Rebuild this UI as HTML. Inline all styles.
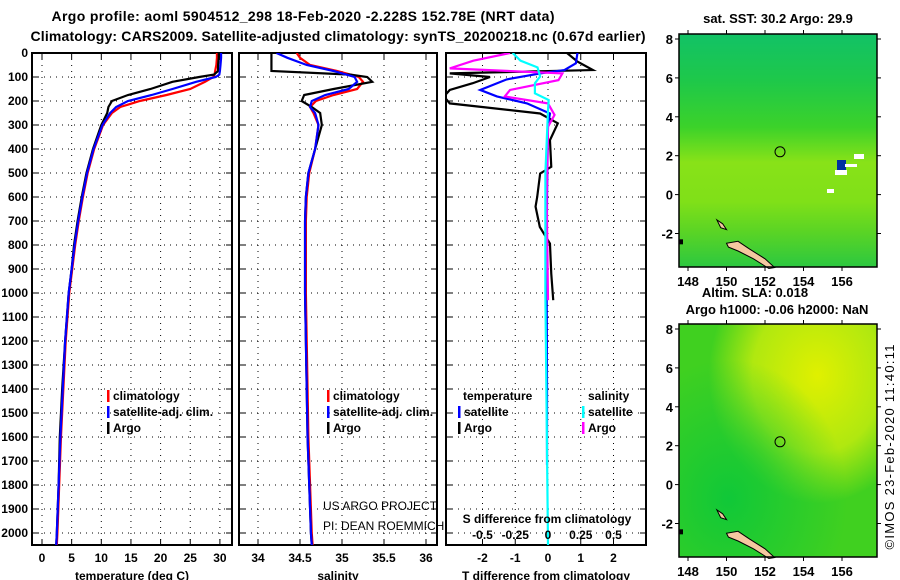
<!DOCTYPE html>
<html><head><meta charset="utf-8"><style>
html,body{margin:0;padding:0;background:#fff}
svg{display:block;font-family:"Liberation Sans",Arial,sans-serif}
text{font-weight:bold;font-size:12px;fill:#000}
</style></head><body>
<svg id="c" width="900" height="580" viewBox="0 0 900 580" xmlns="http://www.w3.org/2000/svg">
<defs>
<linearGradient id="sstg" x1="0" y1="0" x2="0" y2="1">
<stop offset="0" stop-color="#12c266"/><stop offset="0.2" stop-color="#1ec84a"/><stop offset="0.4" stop-color="#3cd22a"/><stop offset="0.55" stop-color="#88e218"/><stop offset="0.72" stop-color="#80e018"/><stop offset="0.85" stop-color="#5ad425"/><stop offset="1" stop-color="#2cc840"/>
</linearGradient>
<radialGradient id="slay" cx="0.7" cy="0.22" r="0.55"><stop offset="0" stop-color="#e0f000"/><stop offset="0.6" stop-color="#b0e810"/><stop offset="1" stop-color="#b0e810" stop-opacity="0"/></radialGradient>
<radialGradient id="slag" cx="0.25" cy="0.75" r="0.6"><stop offset="0" stop-color="#10c838"/><stop offset="1" stop-color="#10c838" stop-opacity="0"/></radialGradient>
</defs>
<text x="303" y="21" text-anchor="middle" style="font-size:14px" textLength="503">Argo profile: aoml 5904512_298 18-Feb-2020 -2.228S 152.78E (NRT data)</text>
<text x="338" y="41" text-anchor="middle" style="font-size:14px" textLength="615">Climatology: CARS2009. Satellite-adjusted climatology: synTS_20200218.nc (0.67d earlier)</text>
<g id="plots"></g>
<g id="maps"></g>
<text transform="translate(894,447) rotate(-90)" text-anchor="middle" style="font-size:13px;font-weight:normal" textLength="205">©IMOS 23-Feb-2020 11:40:11</text>
</svg>
<script>
// ---- data ----
const depths = [0,20,50,75,90,100,120,150,175,200,225,250,300,400,500,600,700,800,900,1000,1200,1400,1600,1800,2000,2050];
const tempArgo = [29.8,29.8,29.7,29.7,29.0,26.5,22.0,18.3,14.5,11.8,11.2,11.0,10.0,8.6,7.5,6.7,6.0,5.4,5.0,4.5,3.9,3.4,3.0,2.8,2.5,2.4];
const tempClim = [29.5,29.5,29.4,29.2,29.1,28.9,27.5,25.0,21.0,16.5,13.2,11.8,10.3,8.8,7.7,6.9,6.2,5.6,5.1,4.6,4.0,3.6,3.2,2.9,2.6,2.5];
const tempSat  = [30.2,30.2,30.1,30.0,29.9,29.3,26.0,22.0,18.5,14.5,12.5,11.5,10.2,8.7,7.6,6.8,6.1,5.5,5.0,4.5,3.9,3.5,3.1,2.8,2.5,2.4];
const salArgo = [34.16,34.16,34.16,34.16,35.10,35.30,35.36,34.90,34.55,34.52,34.64,34.74,34.76,34.68,34.60,34.57,34.56,34.56,34.56,34.56,34.57,34.58,34.59,34.61,34.63,34.64];
const salClim = [34.46,34.50,34.62,34.94,35.10,35.20,35.25,35.18,34.90,34.69,34.62,34.66,34.72,34.68,34.61,34.58,34.57,34.57,34.57,34.57,34.58,34.59,34.60,34.62,34.64,34.65];
const salSat  = [34.22,34.35,34.58,34.90,35.05,35.15,35.18,35.08,34.80,34.64,34.62,34.68,34.72,34.68,34.60,34.57,34.56,34.56,34.56,34.56,34.57,34.58,34.59,34.61,34.63,34.64];
const diffDepths = [0,36,71,85,100,126,154,181,210,252,293,363,474,502,600,640,725,794,920,1030];
const dTArgo = [0.58,0.9,1.37,-3.0,-1.77,-2.3,-3.0,-3.2,-3.0,-0.24,0.3,0.06,0.1,-0.24,-0.33,-0.38,-0.25,0.06,0.1,0.16];
const dTSatDepths = [0,43,71,85,110,154,181,210,252,300,600,1000,1400,1716];
const dTSat = [0.9,0.85,0.5,-0.24,-1.26,-2.07,-1.56,-0.64,0.06,0.0,-0.03,-0.04,-0.03,-0.03];
const dSSatDepths = [0,32,60,98,126,168,196,240,502,1000,2050];
const dSSat = [-0.27,-0.21,-0.08,-0.06,-0.1,-0.1,0.005,0.0,-0.02,-0.02,0.0];
const dSArgoDepths = [0,32,64,85,113,154,181,210,258,307,600,1030];
const dSArgo = [-0.29,-0.57,-0.75,0.11,0.08,-0.29,-0.33,0.0,0.05,0.0,-0.01,0.0];
const depthTicks = [0,100,200,300,400,500,600,700,800,900,1000,1100,1200,1300,1400,1500,1600,1700,1800,1900,2000];
const tempTicks = [0,5,10,15,20,25,30];
const salTicks = [34,34.5,35,35.5,36];
const salTickLabels = ["34","34.5","35","35.5","36"];
const dTTicks = [-2,-1,0,1,2];
const dSTicks = [-0.5,-0.25,0,0.25,0.5];
const latTicks = [8,6,4,2,0,-2];
const lonTicks = [148,150,152,154,156];

const NS='http://www.w3.org/2000/svg';
function mk(tag,attrs,parent){const e=document.createElementNS(NS,tag);for(const k in attrs)e.setAttribute(k,attrs[k]);parent.appendChild(e);return e;}
const plots=document.getElementById('plots');
const top0=53, bot=545;
const yD = d => top0 + d*0.24;

function panel(name,x0,x1,xScale,ticks,labels,title){
  const g=mk('g',{},plots);
  
  
  for(const d of depthTicks){ if(d===0)continue;
    const l=mk('line',{x1:x0,x2:x1,y1:yD(d),y2:yD(d),stroke:'#000','stroke-dasharray':'1,5','stroke-width':1},g);
    
    
    mk('line',{x1:x0,x2:x0+6,y1:yD(d),y2:yD(d),stroke:'#000'},g);
    mk('line',{x1:x1-6,x2:x1,y1:yD(d),y2:yD(d),stroke:'#000'},g);
  }
  ticks.forEach((t,i)=>{const x=xScale(t);
    const l=mk('line',{x1:x,x2:x,y1:top0,y2:bot,stroke:'#000','stroke-dasharray':'1,5'},g);
    
    
    mk('line',{x1:x,x2:x,y1:top0,y2:top0+6,stroke:'#000'},g);
    mk('line',{x1:x,x2:x,y1:bot-6,y2:bot,stroke:'#000'},g);
    const tx=mk('text',{x:x,y:562,'text-anchor':'middle'},g); tx.textContent=labels[i];
    
    
  });
  const r=mk('rect',{x:x0,y:top0,width:x1-x0,height:bot-top0,fill:'none',stroke:'#000','stroke-width':2},g);
  
  
  const at=mk('text',{x:(x0+x1)/2,y:580,'text-anchor':'middle'},g); at.textContent=title;
  
  
  return g;
}
function line(g,xs,ds,xScale,color,name,x0,x1){
  const pts=xs.map((v,i)=>[Math.max(x0-2,Math.min(x1+2,xScale(v))),yD(ds[i])]);
  const p=mk('polyline',{points:pts.map(p=>p.join(',')).join(' '),fill:'none',stroke:color,'stroke-width':2.2,'stroke-linejoin':'miter'},g);
  
  
  return p;
}
function clip(id,x0,x1){const cp=mk('clipPath',{id:id},document.querySelector('defs'));mk('rect',{x:x0,y:top0,width:x1-x0,height:bot-top0},cp);}
depthTicks.forEach(d=>{const t=mk('text',{x:28,y:yD(d)+4,'text-anchor':'end'},plots);t.textContent=d;
  
  });

const xT=t=>42+t*5.93;
const p1=panel('temperature-panel',32,232,xT,tempTicks,tempTicks.map(String),'temperature (deg C)');
clip('c1',32,232);
const g1=mk('g',{'clip-path':'url(#c1)'},p1);
line(g1,tempClim,depths,xT,'#f00','temp-climatology-line',32,232);
line(g1,tempArgo,depths,xT,'#000','temp-argo-line',32,232);
line(g1,tempSat,depths,xT,'#00f','temp-satellite-line',32,232);
const xS=s=>258+(s-34)*84;
const p2=panel('salinity-panel',239,437,xS,salTicks,salTickLabels,'salinity');
clip('c2',239,437);
const g2=mk('g',{'clip-path':'url(#c2)'},p2);
line(g2,salClim,depths,xS,'#f00','sal-climatology-line',239,437);
line(g2,salArgo,depths,xS,'#000','sal-argo-line',239,437);
line(g2,salSat,depths,xS,'#00f','sal-satellite-line',239,437);
const xDT=v=>548+v*32.75, xDS=v=>548+v*131;
const p3=panel('difference-panel',446,646,xDT,dTTicks,dTTicks.map(String),'T difference from climatology');
clip('c3',446,646);
const g3=mk('g',{'clip-path':'url(#c3)'},p3);
line(g3,dTArgo,diffDepths,xDT,'#000','t-diff-argo-line',446,646);
line(g3,dTSat,dTSatDepths,xDT,'#00f','t-diff-satellite-line',446,646);
line(g3,dSArgo,dSArgoDepths,xDS,'#f0f','s-diff-argo-line',446,646);
line(g3,dSSat,dSSatDepths,xDS,'#0ff','s-diff-satellite-line',446,646);
dSTicks.forEach(v=>{const t=mk('text',{x:xDS(v),y:539,'text-anchor':'middle'},p3);t.textContent=String(v);
  
  });
const st=mk('text',{x:547,y:523,'text-anchor':'middle'},p3);st.textContent='S difference from climatology';



function legendEntry(x,y,color,label,name){
  const g=mk('g',{},plots);
  
  
  if(color) mk('rect',{x:x,y:y-10,width:2.5,height:12,fill:color},g);
  const t=mk('text',{x:x+6,y:y},g);t.textContent=label;
  return g;
}
legendEntry(107,400,'#f00','climatology','legend-temp-climatology');
legendEntry(107,416,'#00f','satellite-adj. clim.','legend-temp-satellite');
legendEntry(107,432,'#000','Argo','legend-temp-argo');
legendEntry(327,400,'#f00','climatology','legend-sal-climatology');
legendEntry(327,416,'#00f','satellite-adj. clim.','legend-sal-satellite');
legendEntry(327,432,'#000','Argo','legend-sal-argo');
legendEntry(457,400,null,'temperature','legend-temperature-header');
legendEntry(582,400,null,'salinity','legend-salinity-header');
legendEntry(458,416,'#00f','satellite','legend-tdiff-satellite');
legendEntry(458,432,'#000','Argo','legend-tdiff-argo');
legendEntry(582,416,'#0ff','satellite','legend-sdiff-satellite');
legendEntry(582,432,'#f0f','Argo','legend-sdiff-argo');
const pr=mk('text',{x:323,y:510,style:'font-weight:normal'},plots);pr.textContent='US ARGO PROJECT';


const pi=mk('text',{x:323,y:530,style:'font-weight:normal'},plots);pi.textContent='PI: DEAN ROEMMICH';



const maps=document.getElementById('maps');
function map(name,y0,y1,lat8y,fillFn){
  const g=mk('g',{},maps);
  
  
  const x0=679,x1=877;
  const lx=l=>688+(l-148)*19.25, ly=l=>lat8y+(8-l)*19.45;
  fillFn(g,x0,y0,x1-x0,y1-y0);
  mk('polygon',{points:[[lx(150),ly(-2.5)],[lx(150.6),ly(-2.4)],[lx(151.2),ly(-2.8)],[lx(152),ly(-3.3)],[lx(152.5),ly(-3.75)],[lx(152.2),ly(-3.8)],[lx(151.4),ly(-3.3)],[lx(150.6),ly(-2.9)],[lx(150.1),ly(-2.7)]].map(p=>p.join(',')).join(' '),fill:'#f4c8a0',stroke:'#000','stroke-width':1},g);
  mk('polygon',{points:[[lx(149.5),ly(-1.3)],[lx(149.8),ly(-1.5)],[lx(150),ly(-1.8)],[lx(149.7),ly(-1.7)]].map(p=>p.join(',')).join(' '),fill:'#f4c8a0',stroke:'#000'},g);
  mk('rect',{x:x0,y:ly(-2.3),width:4,height:5,fill:'#000'},g);
  const c=mk('circle',{cx:lx(152.78),cy:ly(2.2),r:5,fill:'none',stroke:'#000','stroke-width':1},g);
  
  
  mk('rect',{x:x0,y:y0,width:x1-x0,height:y1-y0,fill:'none',stroke:'#000','stroke-width':1.5},g);
  latTicks.forEach(l=>{mk('line',{x1:x0-4,x2:x0,y1:ly(l),y2:ly(l),stroke:'#000'},g);mk('line',{x1:x1,x2:x1+4,y1:ly(l),y2:ly(l),stroke:'#000'},g);
    const t=mk('text',{x:673,y:ly(l)+5,'text-anchor':'end',style:'font-size:13px'},g);t.textContent=l;
    
    });
  lonTicks.forEach(l=>{mk('line',{x1:lx(l),x2:lx(l),y1:y0-4,y2:y0,stroke:'#000'},g);mk('line',{x1:lx(l),x2:lx(l),y1:y1,y2:y1+4,stroke:'#000'},g);
    const t=mk('text',{x:lx(l),y:y1+19,'text-anchor':'middle',style:'font-size:13px'},g);t.textContent=l;
    
    });
}
map('sst-map',34,267,39,(g,x,y,w,h)=>{
  mk('rect',{x,y,width:w,height:h,fill:'url(#sstg)'},g);
  mk('rect',{x:837,y:160,width:9,height:11,fill:'#0030a0'},g);
  mk('rect',{x:835,y:170,width:12,height:5,fill:'#fff'},g);
  mk('rect',{x:845,y:164,width:12,height:3,fill:'#fff'},g);
  mk('rect',{x:854,y:154,width:10,height:5,fill:'#fff'},g);
  mk('rect',{x:827,y:189,width:7,height:4,fill:'#fff'},g);
});
map('sla-map',324,557,329,(g,x,y,w,h)=>{
  mk('rect',{x,y,width:w,height:h,fill:'#40d020'},g);
  mk('rect',{x,y,width:w,height:h,fill:'url(#slay)'},g);
  mk('rect',{x,y,width:w,height:h,fill:'url(#slag)'},g);
});
[['sst-map-title','sat. SST: 30.2 Argo: 29.9',778,23],['sla-map-title','Altim. SLA: 0.018',755,297],['sla-map-subtitle','Argo h1000: -0.06 h2000: NaN',777,314]].forEach(a=>{
  const t=mk('text',{x:a[2],y:a[3],'text-anchor':'middle',style:'font-size:13px'},maps);t.textContent=a[1];
  
  
});
</script>
</body></html>
